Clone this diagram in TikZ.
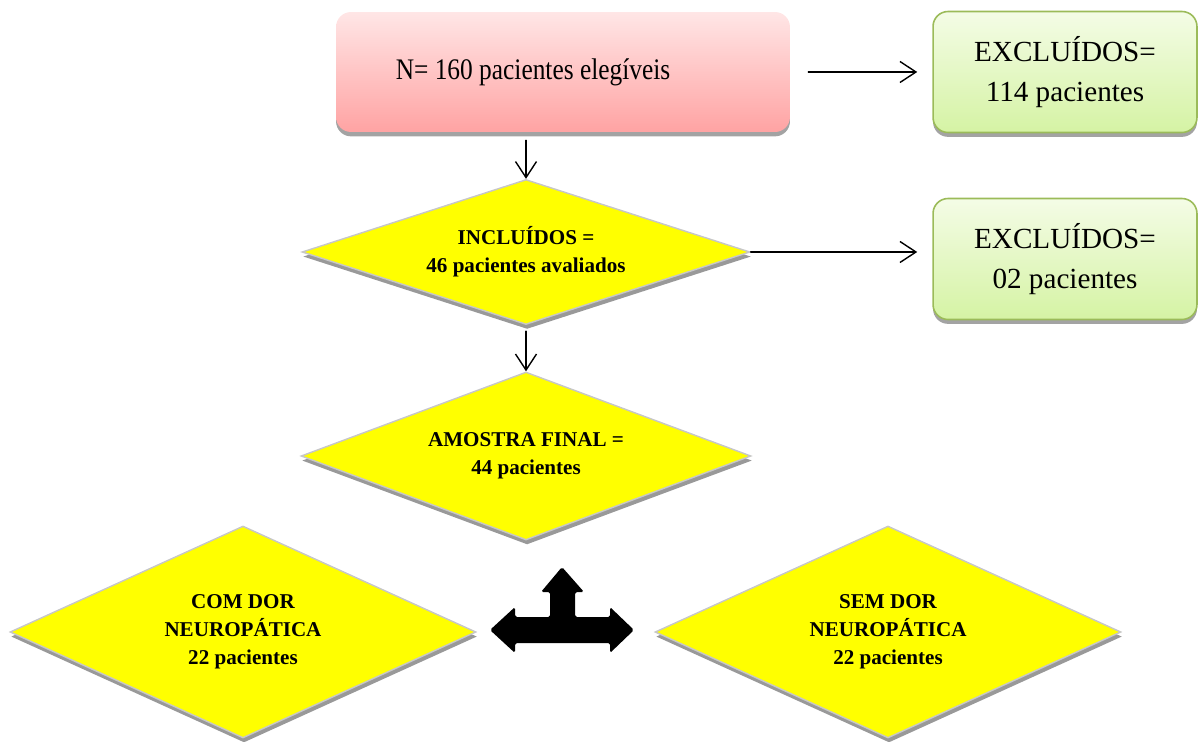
\documentclass[tikz,border=0pt]{standalone}
\usepackage{fontspec}
\setmainfont{Liberation Serif}
\usetikzlibrary{shapes.geometric, shadows, arrows.meta}
\definecolor{pinktop}{HTML}{FFE6E6}
\definecolor{pinkbot}{HTML}{FFA3A3}
\definecolor{greentop}{HTML}{F4FCE6}
\definecolor{greenbot}{HTML}{D5F3A4}
\definecolor{greenline}{HTML}{9BBB59}
\definecolor{decyellow}{HTML}{FFFF00}

\begin{document}
\begin{tikzpicture}[x=0.02cm, y=-0.02cm, line cap=round,
  flow/.style={-{Straight Barb[length=0.32cm, width=0.42cm]}, line width=0.8pt},
  startbox/.style={rectangle, rounded corners=0.3cm, top color=pinktop, bottom color=pinkbot,
    draw=none, minimum width=9.08cm, minimum height=2.4cm,
    font=\fontsize{17}{20}\selectfont,
    drop shadow={shadow xshift=0pt, shadow yshift=-2.5pt, fill=black!45, opacity=.8}},
  exclbox/.style={rectangle, rounded corners=0.3cm, top color=greentop, bottom color=greenbot,
    draw=greenline, line width=0.9pt, minimum width=5.28cm, minimum height=2.42cm, align=center,
    font=\fontsize{16.6}{22.7}\selectfont,
    drop shadow={shadow xshift=0pt, shadow yshift=-2.5pt, fill=black!45, opacity=.8}},
  decision/.style={diamond, fill=decyellow, draw=black!22, line width=0.8pt, inner sep=0pt,
    align=center, font=\bfseries\fontsize{12}{15.9}\selectfont,
    drop shadow={shadow xshift=0.6pt, shadow yshift=-2.6pt, fill=black!40, opacity=1}}]

% --- frame ---
\useasboundingbox (0,0) rectangle (1199,742);

% --- boxes ---
\node[startbox] (elig) at (563,72)
  {\scalebox{0.85}[1]{N= 160 pacientes eleg\'iveis}\hspace*{1.2cm}};
\node[exclbox] (exc1) at (1065,72) {EXCLU\'IDOS=\\ 114 pacientes};
\node[exclbox] (exc2) at (1065,259) {EXCLU\'IDOS=\\ 02 pacientes};

% --- decisions ---
\node[decision, shape aspect=3.09, minimum width=8.96cm, minimum height=2.9cm] (incl) at (526,252)
  {INCLU\'IDOS =\\ 46 pacientes avaliados};
\node[decision, shape aspect=2.68, minimum width=9.0cm, minimum height=3.36cm] (final) at (526,456)
  {AMOSTRA FINAL =\\ 44 pacientes};
\node[decision, shape aspect=2.2, minimum width=9.32cm, minimum height=4.24cm] (comdor) at (243,632)
  {COM DOR\\ NEUROP\'ATICA\\ 22 pacientes};
\node[decision, shape aspect=2.2, minimum width=9.32cm, minimum height=4.24cm] (semdor) at (888,632)
  {SEM DOR\\ NEUROP\'ATICA\\ 22 pacientes};

% --- connectors ---
\draw[flow] ([xshift=0.36cm]elig.east) -- ([xshift=-0.3cm]exc1.west);
\draw[flow] ([yshift=-0.16cm]elig.south -| incl.north) -- (incl.north);
\draw[flow] (incl.east) -- ([xshift=-0.3cm]incl.east -| exc2.west);
\draw[flow] ([yshift=-0.12cm]incl.south) -- (final.north);

% --- split arrow ---
\fill[black, rounded corners=1pt]
  (490,630) -- (515,607) -- (515,617) -- (550,617) -- (550,592) -- (541,592)
  -- (562,567) -- (584,592) -- (575,592) -- (575,617) -- (610,617) -- (610,607)
  -- (634,630) -- (610,653) -- (610,643) -- (515,643) -- (515,653) -- cycle;

\end{tikzpicture}
\end{document}
